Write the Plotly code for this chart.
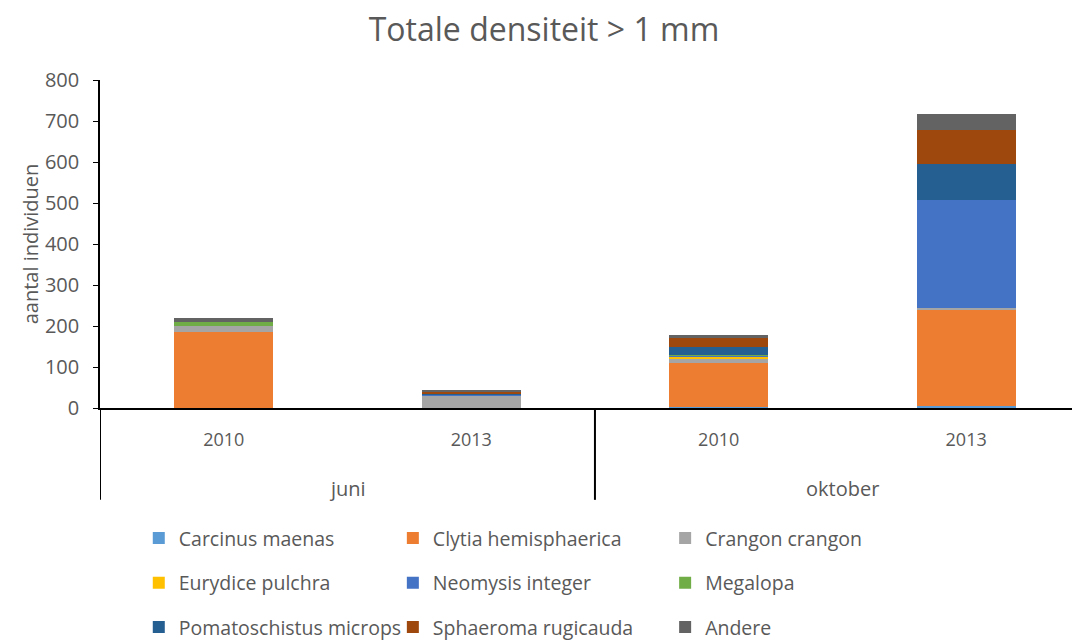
import plotly.graph_objects as go

# categories (outer: month, inner: year)
months = ["juni", "juni", "oktober", "oktober"]
years = ["2010", "2013", "2010", "2013"]

species = [
    "Carcinus maenas", "Clytia hemisphaerica", "Crangon crangon",
    "Eurydice pulchra", "Neomysis integer", "Megalopa",
    "Pomatoschistus microps", "Sphaeroma rugicauda", "Andere",
]

carcinus = [0, 0, 2, 5]
clytia = [186, 0, 108, 236]
crangon = [14, 31, 10, 3]
eurydice = [0, 0, 6, 0]
neomysis = [0, 3, 1, 264]
megalopa = [10, 0, 3, 0]
pomatoschistus = [0, 2, 19, 87]
sphaeroma = [0, 4, 21, 83]
andere = [10, 4, 8, 39]

series = [carcinus, clytia, crangon, eurydice, neomysis, megalopa,
          pomatoschistus, sphaeroma, andere]
colors = ["#5B9BD5", "#ED7D31", "#A5A5A5", "#FFC000", "#4472C4",
          "#70AD47", "#255E91", "#9E480E", "#636363"]

FONT = "'Open Sans', sans-serif"
TXT = "#595959"

cats = [f"{m} {y}" for m, y in zip(months, years)]

# the page body adds an 8px margin, so the figure is 8px smaller
W, H = 1072, 632

fig = go.Figure()

# one legend per entry so the 3x3 grid lines up like the original
col_x = [0.122, 0.359, 0.613]
row_y = [0.161, 0.090, 0.020]
legend_cfg = {}
for i, (name, vals, col) in enumerate(zip(species, series, colors)):
    key = "legend" if i == 0 else f"legend{i + 1}"
    fig.add_trace(go.Bar(
        x=cats, y=vals, name=name,
        marker=dict(color=col, line=dict(width=0)),
        legend=key, showlegend=True,
    ))
    legend_cfg[key] = dict(
        xref="container", yref="container",
        x=col_x[i % 3], y=row_y[i // 3], xanchor="left", yanchor="middle",
        orientation="h", itemwidth=30, bgcolor="rgba(0,0,0,0)",
        font=dict(family=FONT, size=19.5, color=TXT),
    )

# month labels centred under their group, dividers between groups
annotations = []
for m in dict.fromkeys(months):
    idx = [i for i, mm in enumerate(months) if mm == m]
    annotations.append(dict(
        x=sum(idx) / len(idx), y=-0.244, xref="x", yref="paper",
        text=m, showarrow=False, yanchor="middle",
        font=dict(family=FONT, size=20, color=TXT),
    ))

bounds = [-0.5] + [i + 0.5 for i in range(len(months) - 1)
                   if months[i] != months[i + 1]]
shapes = [dict(type="line", xref="x", yref="paper", x0=b, x1=b,
               y0=0, y1=-0.28, line=dict(color="#000000", width=2))
          for b in bounds]

fig.update_layout(
    showlegend=True,
    barmode="stack",
    bargap=0.6,
    width=W, height=H,
    paper_bgcolor="white", plot_bgcolor="white",
    margin=dict(l=92, r=0, t=72, b=232, autoexpand=False),
    title=dict(text="Totale densiteit > 1 mm", x=0.5, xanchor="center",
               y=0.966, yanchor="middle",
               font=dict(family=FONT, size=32, color=TXT)),
    font=dict(family=FONT, size=19, color=TXT),
    yaxis=dict(
        range=[0, 800], dtick=100, showgrid=False,
        showline=True, linecolor="#000000", linewidth=1.5,
        ticks="outside", ticklen=5, tickcolor="#000000",
        ticklabelstandoff=10,
        tickfont=dict(family=FONT, size=20, color=TXT),
        title=dict(text="aantal individuen", standoff=1,
                   font=dict(family=FONT, size=20, color=TXT)),
        zeroline=False,
    ),
    xaxis=dict(
        type="category", range=[-0.5, 3.46],
        tickvals=cats, ticktext=years, ticks="",
        ticklabelstandoff=14,
        showline=True, linecolor="#000000", linewidth=2,
        tickfont=dict(family=FONT, size=18, color=TXT),
        showgrid=False,
    ),
    annotations=annotations,
    shapes=shapes,
    **legend_cfg,
)

fig.write_html("out.html")
